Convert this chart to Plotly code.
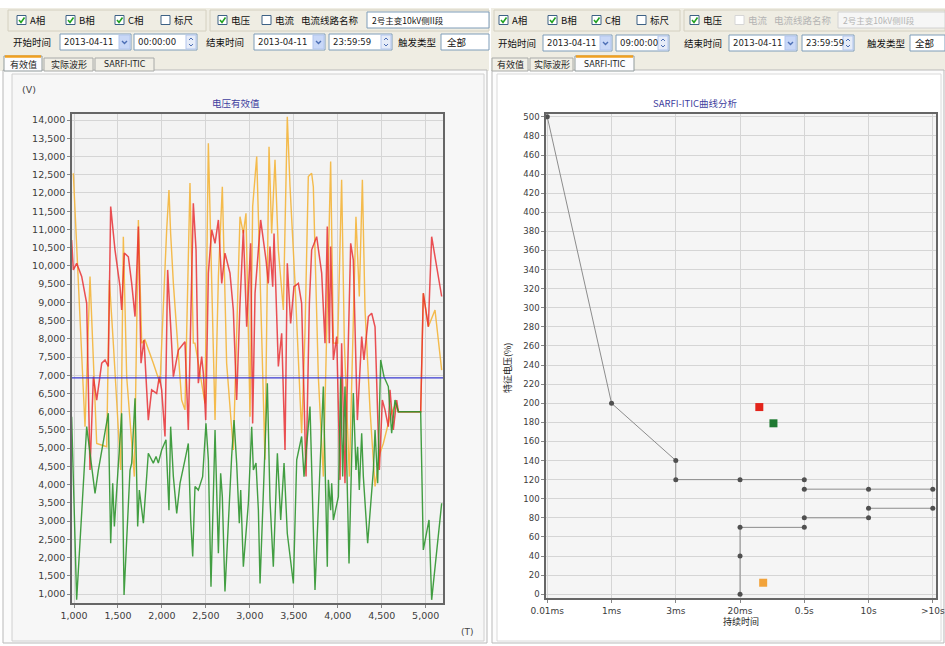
import plotly.graph_objects as go

W, H = 945, 646
CJK = "Noto Sans CJK SC"
LAT = "DejaVu Sans"

# ---------------- data: left chart (电压有效值) ----------------
orange_t = [992,1125,1182,1258,1372,1402,1447,1531,1561,1599,1686,1732,1770,1807,1902,1978,2054,2080,2099,2130,
            2224,2262,2319,2357,2376,2490,2528,2566,2604,2642,2687,2736,2812,2888,2926,2956,3002,3032,3078,3135,
            3172,3218,3248,3286,3324,3381,3426,3457,3514,3589,3627,3665,3703,3722,3779,3836,3893,3919,3950,3999,
            4044,4075,4132,4207,4245,4280,4310,4367,4424,4480,4518,4594,4662,4689,4943,4973,5030,5106,5182]
orange_v = [12540,5590,9710,5130,5040,9610,7880,4400,10800,6960,4220,11260,7880,7970,7330,6780,10990,12080,10890,9520,
            6320,6050,12270,7880,7880,6230,13360,9710,5770,9710,12170,7330,4950,11350,10890,11440,5860,11630,13000,8060,
            4680,13270,10890,12910,10440,8790,14090,12170,9520,5410,8150,12450,12540,12170,6960,4220,10800,12860,7880,7880,
            12360,7880,4220,11350,9160,12360,8790,6050,3950,4860,5130,5860,6230,6000,6000,9250,8330,8790,7140]

red_t = [973,992,1030,1087,1144,1182,1220,1258,1315,1353,1390,1417,1466,1523,1542,1572,1618,1656,1694,1732,
         1762,1796,1845,1883,1940,1970,1997,2035,2065,2092,2130,2187,2262,2300,2357,2388,2414,2452,2471,2498,
         2528,2566,2604,2642,2680,2717,2774,2812,2850,2888,2926,2964,3009,3032,3059,3123,3184,3210,3229,3260,
         3275,3324,3362,3400,3426,3464,3502,3552,3589,3639,3677,3703,3760,3817,3855,3881,3904,3919,3950,3988,
         4026,4044,4082,4147,4177,4223,4272,4298,4348,4386,4424,4473,4507,4537,4575,4594,4632,4670,4689,4943,
         4973,5030,5068,5182]
red_v = [10710,9890,10070,9710,8970,4400,6960,6320,7330,7420,7240,11630,10440,9430,8790,10350,10250,9520,8610,11080,
         7330,7970,5770,6600,6500,6960,6600,5320,9890,8790,6960,7690,7920,5500,11720,10440,6780,7510,7050,5770,
         9800,10990,10620,11260,9520,10350,9800,8790,6320,8970,10990,8330,10620,5680,9250,11260,10160,9520,10530,9430,
         10890,7240,8150,4950,10070,8420,9430,9520,8970,4220,8970,10440,10800,9800,7880,11080,7880,10530,7420,8060,
         4130,7880,4040,10620,10160,5770,8060,7420,8610,8700,8330,4400,6320,6050,5590,6600,5500,6320,6000,6000,
         9250,8330,10800,9160]

green_t = [973,1030,1144,1239,1277,1390,1417,1440,1459,1542,1569,1637,1656,1694,1724,1743,1789,1845,1902,1933,
           1959,1997,2046,2080,2099,2130,2168,2206,2262,2300,2327,2350,2376,2414,2463,2501,2528,2558,2604,2642,
           2668,2687,2717,2755,2793,2820,2850,2880,2896,2926,2956,2983,3021,3040,3070,3097,3116,3153,3199,3229,
           3267,3313,3351,3389,3426,3495,3533,3589,3616,3684,3722,3741,3836,3881,3893,3919,3931,3950,4007,4033,
           4056,4082,4128,4177,4207,4226,4245,4272,4291,4340,4405,4424,4454,4488,4526,4575,4613,4651,4689,4943,
           4973,5038,5068,5182]
green_v = [5860,840,5590,3760,4400,5960,2390,4040,2850,5960,970,4400,4590,6370,2850,3850,2940,4860,4590,4770,
           4590,4950,5230,3300,5590,4220,3210,4040,4680,5130,3030,2030,3950,3850,4220,5680,4680,1200,5500,2120,
           4310,3670,1070,3030,4770,5770,4590,2940,3850,1750,2760,3490,5590,4400,4590,3300,1290,3760,6780,3580,
           1750,4860,3030,4590,2660,1290,4680,5320,4220,6140,2660,1110,6690,1750,4130,3300,4040,3030,3670,6960,
           4220,6690,1840,6510,4400,5040,3850,5410,4220,2390,4400,5500,4040,7420,6960,6690,5410,6320,6000,6000,
           2210,3030,840,3490]

threshold_v = 6930
left_xticks = list(range(1000, 5001, 500))
left_yticks = list(range(1000, 14001, 500))

# ---------------- data: right chart (SARFI-ITIC) ----------------
itic_cats = ["0.01ms", "1ms", "3ms", "20ms", "0.5s", "10s", ">10s"]
upper_x = [0, 1, 2, 2, 3, 4, None, 4, 5, 6]
upper_y = [500, 200, 140, 120, 120, 120, None, 110, 110, 110]
lower_x = [3, 3, 3, 4, None, 4, 5, None, 5, 6]
lower_y = [0, 40, 70, 70, None, 80, 80, None, 90, 90]
event_x = [3.30, 3.52, 3.36]
event_y = [196, 179, 12]
event_c = ["#e3241b", "#1f7a32", "#f2a33a"]
right_yticks = list(range(0, 501, 20))


def X(p):
    return p / W


def Y(p):
    return 1 - p / H


shapes = []
annots = []


def rect(x0, y0, x1, y1, fill="rgba(0,0,0,0)", line="rgba(0,0,0,0)", lw=1, layer="below"):
    shapes.append(dict(type="rect", xref="paper", yref="paper", x0=X(x0), x1=X(x1), y0=Y(y1), y1=Y(y0),
                       fillcolor=fill, line=dict(color=line, width=lw), layer=layer))


def seg(x0, y0, x1, y1, color, lw=1, layer="below"):
    shapes.append(dict(type="line", xref="paper", yref="paper", x0=X(x0), x1=X(x1), y0=Y(y0), y1=Y(y1),
                       line=dict(color=color, width=lw), layer=layer))


def path(pts, color, lw=1.5):
    d = "M " + " L ".join(f"{X(a):.5f},{Y(b):.5f}" for a, b in pts)
    shapes.append(dict(type="path", xref="paper", yref="paper", path=d, line=dict(color=color, width=lw),
                       layer="above"))


def txt(x, y, s, size=10, color="#111111", family=CJK, xanchor="left", angle=0):
    annots.append(dict(x=X(x), y=Y(y), xref="paper", yref="paper", text=s, showarrow=False, xanchor=xanchor,
                       yanchor="middle", textangle=angle, borderpad=0,
                       font=dict(size=size, color=color, family=family)))


def checkbox(x, yc, checked, label, enabled=True):
    bc = "#3d6185" if enabled else "#d6d6d6"
    rect(x, yc - 4.5, x + 9, yc + 4.5, fill="#ffffff", line=bc, lw=1)
    if checked:
        path([(x + 2, yc), (x + 4, yc + 2.5), (x + 7.5, yc - 2.5)], "#21a121", 1.6)
    txt(x + 12, yc, label, size=9.5, color="#111111" if enabled else "#b4b4b4")


def chevron(xc, yc, color="#4d6fb5"):
    path([(xc - 2.5, yc - 1), (xc, yc + 1.5), (xc + 2.5, yc - 1)], color, 1.4)


def datebox(x0, x1, yc, s):
    rect(x0, yc - 8, x1, yc + 8, fill="#ffffff", line="#7f9db9")
    rect(x1 - 12, yc - 7, x1 - 1, yc + 7, fill="#c9d8f7", line="#b3c6ee")
    chevron(x1 - 6.5, yc)
    txt(x0 + 3, yc, s, size=8.5, family=LAT, color="#222222")


def timebox(x0, x1, yc, s):
    rect(x0, yc - 8, x1, yc + 8, fill="#ffffff", line="#7f9db9")
    rect(x1 - 11, yc - 7, x1 - 1, yc + 7, fill="#e6ecf8", line="#b3c6ee")
    path([(x1 - 8, yc - 2), (x1 - 6, yc - 4), (x1 - 4, yc - 2)], "#4d6fb5", 1)
    path([(x1 - 8, yc + 2), (x1 - 6, yc + 4), (x1 - 4, yc + 2)], "#4d6fb5", 1)
    txt(x0 + 3, yc, s, size=8.5, family=LAT, color="#222222")


def tab(x0, x1, label, active, family=CJK, size=9):
    if active:
        rect(x0, 56, x1, 71, fill="#fcfcfe", line="#919b9c")
        seg(x0 + 1, 56.5, x1 - 1, 56.5, "#f0a020", 2.5)
    else:
        rect(x0, 58, x1, 71, fill="#f1efe6", line="#a8aaa8")
    txt((x0 + x1) / 2, 64, label, size=size, family=family, color="#222222", xanchor="center")


# ---------------- background chrome ----------------
rect(0, 8, 489, 71, fill="#efede3")
rect(491, 8, 945, 71, fill="#efede3")
rect(8, 10, 206, 31, line="#d4d0c0")
rect(210, 10, 489, 31, line="#d4d0c0")
rect(494, 10, 680, 31, line="#d4d0c0")
rect(684, 10, 945, 31, line="#d4d0c0")

rect(3, 70, 487, 643, fill="#fbfbfb", line="#b9b9b9")
rect(12, 74, 484, 641, fill="#f7f7f7", line="#d0d0d0")
rect(492, 70, 944, 643, fill="#fcfcfc", line="#b9b9b9")
rect(497, 74, 941, 641, fill="#ffffff", line="#dadada")

rect(72, 114, 443, 603, fill="#f3f3f3")
rect(546, 114, 936, 598, fill="#f5f5f5")

# ---------------- left toolbar ----------------
for x, c, lab in [(17, True, "A相"), (66, True, "B相"), (115, True, "C相"), (161, False, "标尺"),
                  (218, True, "电压"), (262, False, "电流")]:
    checkbox(x, 20, c, lab)
txt(300, 20, "电流线路名称", size=9.5)
rect(367, 12, 489, 28, fill="#ffffff", line="#7f9db9")
txt(371, 20, "2号主变10kV侧II段", size=8.5)

txt(12, 42, "开始时间", size=9.5)
datebox(60, 131, 42, "2013-04-11")
timebox(134, 197, 42, "00:00:00")
txt(205, 42, "结束时间", size=9.5)
datebox(254, 325, 42, "2013-04-11")
timebox(329, 392, 42, "23:59:59")
txt(397, 42, "触发类型", size=9.5)
rect(441, 34, 489, 50, fill="#ffffff", line="#7f9db9")
txt(446, 42, "全部", size=9.5)

tab(4, 42, "有效值", True)
tab(44, 93, "实际波形", False)
tab(95, 154, "SARFI-ITIC", False, family=LAT, size=8)

# ---------------- right toolbar ----------------
for x, c, lab in [(499, True, "A相"), (548, True, "B相"), (592, True, "C相"), (637, False, "标尺"),
                  (690, True, "电压")]:
    checkbox(x, 20, c, lab)
checkbox(735, 20, False, "电流", enabled=False)
txt(773, 20, "电流线路名称", size=9.5, color="#b4b4b4")
rect(838, 12, 945, 28, fill="#f6f6f6", line="#d2d2d2")
txt(842, 20, "2号主变10kV侧II段", size=8.5, color="#b4b4b4")

txt(497, 43, "开始时间", size=9.5)
datebox(543, 612, 43, "2013-04-11")
timebox(616, 669, 43, "09:00:00")
txt(683, 43, "结束时间", size=9.5)
datebox(729, 797, 43, "2013-04-11")
timebox(802, 854, 43, "23:59:59")
txt(866, 43, "触发类型", size=9.5)
rect(910, 35, 945, 51, fill="#ffffff", line="#7f9db9")
txt(914, 43, "全部", size=9.5)

tab(492, 528, "有效值", False)
tab(530, 573, "实际波形", False)
tab(575, 634, "SARFI-ITIC", True, family=LAT, size=8)

# ---------------- chart texts ----------------
txt(236, 103, "电压有效值", size=9.5, color="#3f3fa0", xanchor="center")
txt(21, 89, "(V)", size=9.5, family=LAT, color="#444444")
txt(460, 632, "(T)", size=9, family=LAT, color="#444444")
txt(695, 103, "SARFI-ITIC曲线分析", size=9.5, color="#3f3fa0", xanchor="center")
txt(507, 368, "特征电压(%)", size=9, color="#222222", xanchor="center", angle=-90)
txt(741, 621, "持续时间", size=9, color="#222222", xanchor="center")

shapes.append(dict(type="line", xref="x domain", yref="y", x0=0, x1=1, y0=threshold_v, y1=threshold_v,
                   line=dict(color="#3a3ad0", width=1.3), layer="above"))

# ---------------- traces ----------------
fig = go.Figure()
fig.add_trace(go.Scatter(x=orange_t, y=orange_v, mode="lines", line=dict(color="#f5b53a", width=1.4),
                         opacity=0.9, xaxis="x", yaxis="y", hoverinfo="skip", showlegend=False))
fig.add_trace(go.Scatter(x=red_t, y=red_v, mode="lines", line=dict(color="#e8262a", width=1.5),
                         opacity=0.8, xaxis="x", yaxis="y", hoverinfo="skip", showlegend=False))
fig.add_trace(go.Scatter(x=green_t, y=green_v, mode="lines", line=dict(color="#2f952f", width=1.4),
                         opacity=0.9, xaxis="x", yaxis="y", hoverinfo="skip", showlegend=False))

fig.add_trace(go.Scatter(x=upper_x, y=upper_y, mode="lines+markers", connectgaps=False,
                         line=dict(color="#8c8c8c", width=1), marker=dict(color="#505050", size=5),
                         xaxis="x2", yaxis="y2", hoverinfo="skip", showlegend=False))
fig.add_trace(go.Scatter(x=lower_x, y=lower_y, mode="lines+markers", connectgaps=False,
                         line=dict(color="#8c8c8c", width=1), marker=dict(color="#505050", size=5),
                         xaxis="x2", yaxis="y2", hoverinfo="skip", showlegend=False))
fig.add_trace(go.Scatter(x=event_x, y=event_y, mode="markers",
                         marker=dict(symbol="square", size=8, color=event_c, line=dict(width=0)),
                         xaxis="x2", yaxis="y2", hoverinfo="skip", showlegend=False))

tickfont = dict(family=LAT, size=9.5, color="#3c3c3c")
axis_common = dict(showgrid=True, gridcolor="#d5d5d5", gridwidth=1, zeroline=False, showline=True,
                   mirror=True, linecolor="#666666", linewidth=1.5, ticks="outside", ticklen=3,
                   tickcolor="#888888", tickfont=tickfont, fixedrange=True, automargin=False)

fig.update_layout(
    width=W, height=H, margin=dict(l=0, r=0, t=0, b=0, autoexpand=False),
    paper_bgcolor="#ffffff", plot_bgcolor="rgba(0,0,0,0)",
    xaxis=dict(domain=[X(72), X(443)], range=[977, 5197], tickvals=left_xticks, tickformat=",",
               anchor="y", **axis_common),
    yaxis=dict(domain=[Y(603), Y(114)], range=[753, 14166], tickvals=left_yticks, tickformat=",",
               anchor="x", **axis_common),
    xaxis2=dict(domain=[X(546), X(936)], range=[-0.02, 6.05], tickvals=list(range(len(itic_cats))),
                ticktext=itic_cats, anchor="y2",
                **{**axis_common, "tickfont": dict(family=LAT, size=9, color="#3c3c3c")}),
    yaxis2=dict(domain=[Y(598), Y(114)], range=[-4, 503], tickvals=right_yticks, anchor="x2",
                **{**axis_common, "tickfont": dict(family=LAT, size=8.5, color="#3c3c3c")}),
    shapes=shapes, annotations=annots, showlegend=False,
)

fig.write_html("out.html")
